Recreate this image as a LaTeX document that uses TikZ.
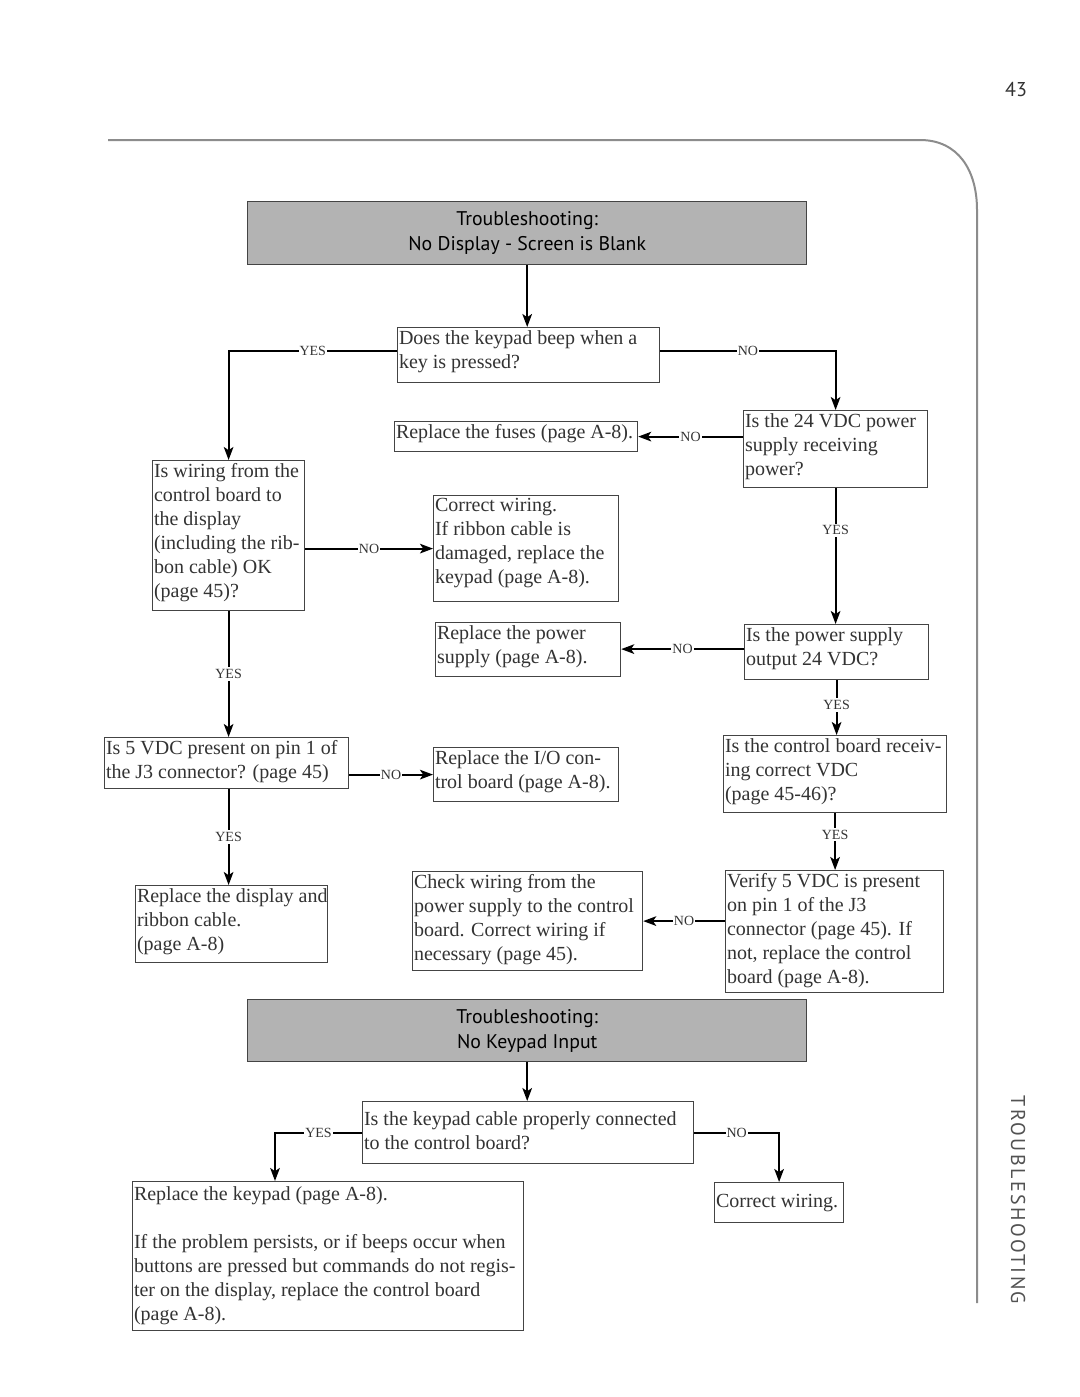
\documentclass[tikz,border=0pt]{standalone}
\usepackage{fontspec}
\setmainfont{Liberation Serif}
\newfontfamily\hdsans{PT Sans}
\newfontfamily\spsans[LetterSpace=12]{PT Sans}
\usetikzlibrary{arrows.meta}
\definecolor{txtgray}{HTML}{333333}
\definecolor{boxline}{HTML}{444444}
\definecolor{hdfill}{HTML}{B3B3B3}
\definecolor{rulegray}{HTML}{8C8C8C}
\begin{document}
\begin{tikzpicture}[x=0.5pt,y=-0.5pt,
 box/.style={draw=boxline, line width=0.6pt, anchor=north west, inner sep=0pt},
 txt/.style={anchor=north west, align=left, inner xsep=0.8pt, inner ysep=1.5pt, text=txtgray, font=\fontsize{10}{12}\selectfont},
 hd/.style={draw=boxline, fill=hdfill, line width=0.7pt, anchor=north west, align=center, font=\hdsans\fontsize{9.9}{12.5}\selectfont, text=black},
 conn/.style={line width=1pt, -{Stealth[length=6.5pt,width=4.8pt,inset=1.6pt]}},
 lbl/.style={fill=white, inner xsep=0.5pt, inner ysep=1pt, font=\fontsize{7}{8}\selectfont, text=txtgray},
]
\fill[white] (0,0) rectangle (1080,1397);
\useasboundingbox (0,0) rectangle (1080,1397);

% page furniture
\node[font=\hdsans\fontsize{10}{12}\selectfont, text=txtgray] (pnum) at (1016,90) {43};
\draw[rulegray, line width=1pt] (108,140) -- (920,140) .. controls (958,140) and (977,170) .. (977,210) -- (977,1303);
\node[rotate=-90, font=\spsans\fontsize{10}{12}\selectfont, text=txtgray!85] (side) at (1018,1200) {TROUBLESHOOTING};

% headers
\node[hd, minimum width=559*0.5pt, minimum height=63*0.5pt] (h1) at (247,201) {Troubleshooting:\\No Display - Screen is Blank};
\node[hd, minimum width=559*0.5pt, minimum height=62*0.5pt] (h2) at (247,999) {Troubleshooting:\\No Keypad Input};

% boxes
\node[box, minimum width=262*0.5pt, minimum height=55*0.5pt] (q1) at (397,327) {};
\node[txt] (q1t) at (q1.north west) {Does the keypad beep when a\\key is pressed?};

\node[box, minimum width=184*0.5pt, minimum height=77*0.5pt] (q24) at (743,410) {};
\node[txt] (q24t) at (q24.north west) {Is the 24 VDC power\\supply receiving\\power?};

\node[box, minimum width=243*0.5pt, minimum height=30*0.5pt] (fuse) at (394,421) {};
\node[txt] (fuset) at (fuse.north west) {Replace the fuses (page A-8).};

\node[box, minimum width=152*0.5pt, minimum height=150*0.5pt] (wiring) at (152,460) {};
\node[txt] (wiringt) at (wiring.north west) {Is wiring from the\\control board to\\the display\\(including the rib-\\bon cable) OK\\(page 45)?};

\node[box, minimum width=185*0.5pt, minimum height=106*0.5pt] (cw) at (433,495) {};
\node[txt] (cwt) at (cw.north west) {Correct wiring.\\If ribbon cable is\\damaged, replace the\\keypad (page A-8).};

\node[box, minimum width=185*0.5pt, minimum height=54*0.5pt] (rps) at (435,622) {};
\node[txt] (rpst) at (rps.north west) {Replace the power\\supply (page A-8).};

\node[box, minimum width=184*0.5pt, minimum height=55*0.5pt] (ps) at (744,624) {};
\node[txt] (pst) at (ps.north west) {Is the power supply\\output 24 VDC?};

\node[box, minimum width=223*0.5pt, minimum height=77*0.5pt] (cb) at (723,735) {};
\node[txt] (cbt) at (cb.north west) {Is the control board receiv-\\ing correct VDC\\(page 45-46)?};

\node[box, minimum width=244*0.5pt, minimum height=51*0.5pt] (j3) at (104,737) {};
\node[txt] (j3t) at (j3.north west) {Is 5 VDC present on pin 1 of\\the J3 connector? (page 45)};

\node[box, minimum width=185*0.5pt, minimum height=54*0.5pt] (io) at (433,747) {};
\node[txt] (iot) at (io.north west) {Replace the I/O con-\\trol board (page A-8).};

\node[box, minimum width=192*0.5pt, minimum height=77*0.5pt] (disp) at (135,885) {};
\node[txt] (dispt) at (disp.north west) {Replace the display and\\ribbon cable.\\(page A-8)};

\node[box, minimum width=230*0.5pt, minimum height=99*0.5pt] (check) at (412,871) {};
\node[txt] (checkt) at (check.north west) {Check wiring from the\\power supply to the control\\board. Correct wiring if\\necessary (page 45).};

\node[box, minimum width=218*0.5pt, minimum height=122*0.5pt] (verify) at (725,870) {};
\node[txt] (verifyt) at (verify.north west) {Verify 5 VDC is present\\on pin 1 of the J3\\connector (page 45). If\\not, replace the control\\board (page A-8).};

\node[box, minimum width=331*0.5pt, minimum height=62*0.5pt] (kq) at (362,1101) {};
\node[txt] (kqt) at ([yshift=-3.5pt]kq.north west) {Is the keypad cable properly connected\\to the control board?};

\node[box, minimum width=391*0.5pt, minimum height=149*0.5pt] (rk) at (132,1181) {};
\node[txt] (rkt) at ([yshift=-1pt]rk.north west) {Replace the keypad (page A-8).\\[12pt]If the problem persists, or if beeps occur when\\buttons are pressed but commands do not regis-\\ter on the display, replace the control board\\(page A-8).};

\node[box, minimum width=129*0.5pt, minimum height=40*0.5pt] (cw2) at (714,1182) {};
\node[txt, anchor=west] (cw2t) at (cw2.west) {Correct wiring.};

% connectors
\draw[conn] (h1.south) -- (h1.south |- q1.north);
\draw[conn] ([yshift=2pt]q1.west) -| (wiring.north) node[lbl, pos=0.25] {YES};
\draw[conn] ([yshift=2pt]q1.east) -| (q24.north) node[lbl, pos=0.25] {NO};
\draw[conn] (q24.west |- fuse.east) -- (fuse.east) node[lbl, midway] {NO};
\draw[conn] (q24.south) -- (q24.south |- ps.north) node[lbl, pos=0.31] {YES};
\draw[conn] ([yshift=1.5pt]ps.west) -- ([yshift=1.5pt]ps.west -| rps.east) node[lbl, midway] {NO};
\draw[conn] (ps.south) -- (ps.south |- cb.north) node[lbl, pos=0.45] {YES};
\draw[conn] (cb.south) -- (cb.south |- verify.north) node[lbl, pos=0.38] {YES};
\draw[conn] (verify.west |- check.east) -- (check.east) node[lbl, midway] {NO};
\draw[conn] (wiring.east |- cw.west) -- (cw.west) node[lbl, midway] {NO};
\draw[conn] (wiring.south) -- (wiring.south |- j3.north) node[lbl, midway] {YES};
\draw[conn] (j3.east |- io.west) -- (io.west) node[lbl, midway] {NO};
\draw[conn] (wiring.south |- j3.south) -- (wiring.south |- disp.north) node[lbl, midway] {YES};
\draw[conn] (h2.south) -- (h2.south |- kq.north);
\draw[conn] (kq.west) -| ([xshift=71.5pt]rk.north west) node[lbl, pos=0.25] {YES};
\draw[conn] (kq.east) -| (cw2.north) node[lbl, pos=0.25] {NO};
\end{tikzpicture}
\end{document}
